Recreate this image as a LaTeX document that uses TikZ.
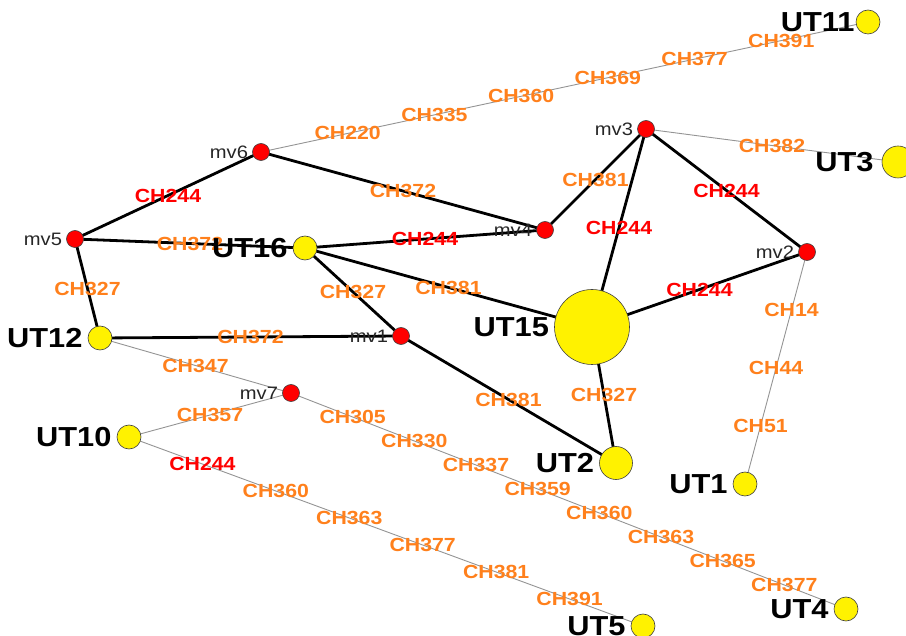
\documentclass[tikz,border=0pt]{standalone}
\usepackage{fontspec}
\setmainfont{Liberation Sans}
\newfontfamily\netfont[FakeStretch=1.12]{Liberation Sans}
\usetikzlibrary{backgrounds}
\definecolor{chorange}{RGB}{255,128,28}
\definecolor{chred}{RGB}{255,0,0}
\newcommand\chfnt{\netfont\bfseries\fontsize{19}{21}\selectfont}
\newcommand\utfnt{\netfont\bfseries\fontsize{27.5}{30}\selectfont}
\newcommand\mvfnt{\netfont\fontsize{18}{20}\selectfont}
\tikzset{
  mvnode/.style={circle, draw=black!75, line width=0.6pt, fill=red, inner sep=0pt, minimum size=17pt},
  utnode/.style={circle, draw=black!75, line width=0.6pt, fill=yellow, inner sep=0pt, minimum size=24pt},
  mvtext/.style={font=\mvfnt, text=black!85, inner sep=0pt, label distance=4pt},
  uttext/.style={font=\utfnt, text=black, inner sep=0pt, label distance=5pt},
  mvlab/.style={label={[mvtext]left:#1}},
  utlab/.style={label={[uttext]left:#1}},
  heavy/.style={line width=2.8pt, black},
  light/.style={line width=0.9pt, black!42},
  ch/.style={font=\chfnt, text=chorange, inner sep=0pt},
  chr/.style={ch, text=chred}
}
\begin{document}
\begin{tikzpicture}[x=1pt, y=-1pt]
\useasboundingbox (0,0) rectangle (906,636);

\node[mvnode, mvlab=mv6] (mv6) at (261,152) {};
\node[mvnode, mvlab=mv5] (mv5) at (75,239) {};
\node[mvnode, mvlab=mv4] (mv4) at (545,230) {};
\node[mvnode, mvlab=mv3] (mv3) at (646,129) {};
\node[mvnode, mvlab=mv2] (mv2) at (807,252) {};
\node[mvnode, mvlab=mv1] (mv1) at (401,336) {};
\node[mvnode, mvlab=mv7] (mv7) at (291,393) {};

\node[utnode, label={[uttext, label distance=1pt]left:UT11}] (UT11) at (868,22) {};
\node[utnode, minimum size=32pt, label={[uttext, label distance=8pt]left:UT3}] (UT3) at (898,162) {};
\node[utnode, utlab=UT16] (UT16) at (305,248) {};
\node[utnode, minimum size=75pt, utlab=UT15] (UT15) at (592,327) {};
\node[utnode, utlab=UT12] (UT12) at (100,338) {};
\node[utnode, utlab=UT10] (UT10) at (129,437) {};
\node[utnode, minimum size=33pt, utlab=UT2] (UT2) at (616,463) {};
\node[utnode, utlab=UT1] (UT1) at (745,484) {};
\node[utnode, utlab=UT4] (UT4) at (846,609) {};
\node[utnode, utlab=UT5] (UT5) at (643,626) {};

\begin{scope}[on background layer]
\draw[heavy] (mv6.center) -- (mv5.center) node[chr, midway] {CH244};
\draw[heavy] (mv6.center) -- (mv4.center) node[ch, midway] {CH372};
\draw[heavy] (mv5.center) -- (UT16.center) node[ch, midway] {CH372};
\draw[heavy] (mv5.center) -- (UT12.center) node[ch, midway] {CH327};
\draw[heavy] (UT16.center) -- (mv4.center) node[chr, midway] {CH244};
\draw[heavy] (mv4.center) -- (mv3.center) node[ch, midway] {CH381};
\draw[heavy] (mv3.center) -- (UT15.center) node[chr, midway] {CH244};
\draw[heavy] (mv3.center) -- (mv2.center) node[chr, midway] {CH244};
\draw[heavy] (mv2.center) -- (UT15.center) node[chr, midway] {CH244};
\draw[heavy] (UT16.center) -- (mv1.center) node[ch, midway] {CH327};
\draw[heavy] (UT16.center) -- (UT15.center) node[ch, midway] {CH381};
\draw[heavy] (UT12.center) -- (mv1.center) node[ch, midway] {CH372};
\draw[heavy] (mv1.center) -- (UT2.center) node[ch, midway] {CH381};
\draw[heavy] (UT15.center) -- (UT2.center) node[ch, midway] {CH327};

\draw[light] (mv3.center) -- (UT3.center) node[ch, midway] {CH382};
\draw[light] (UT12.center) -- (mv7.center) node[ch, midway] {CH347};
\draw[light] (mv7.center) -- (UT10.center) node[ch, midway] {CH357};
\draw[light] (mv6.center) -- (UT11.center)
  \foreach \c [count=\i] in {220,335,360,369,377,391} {node[ch, pos=\i/7] {CH\c}};
\draw[light] (mv2.center) -- (UT1.center)
  \foreach \c [count=\i] in {14,44,51} {node[ch, pos=\i/4] {CH\c}};
\draw[light] (mv7.center) -- (UT4.center)
  \foreach \c [count=\i] in {305,330,337,359,360,363,365,377} {node[ch, pos=\i/9] {CH\c}};
\draw[light] (UT10.center) -- (UT5.center)
  \foreach \c/\s [count=\i] in {244/chr,360/ch,363/ch,377/ch,381/ch,391/ch} {node[\s, pos=\i/7] {CH\c}};
\end{scope}
\end{tikzpicture}
\end{document}
